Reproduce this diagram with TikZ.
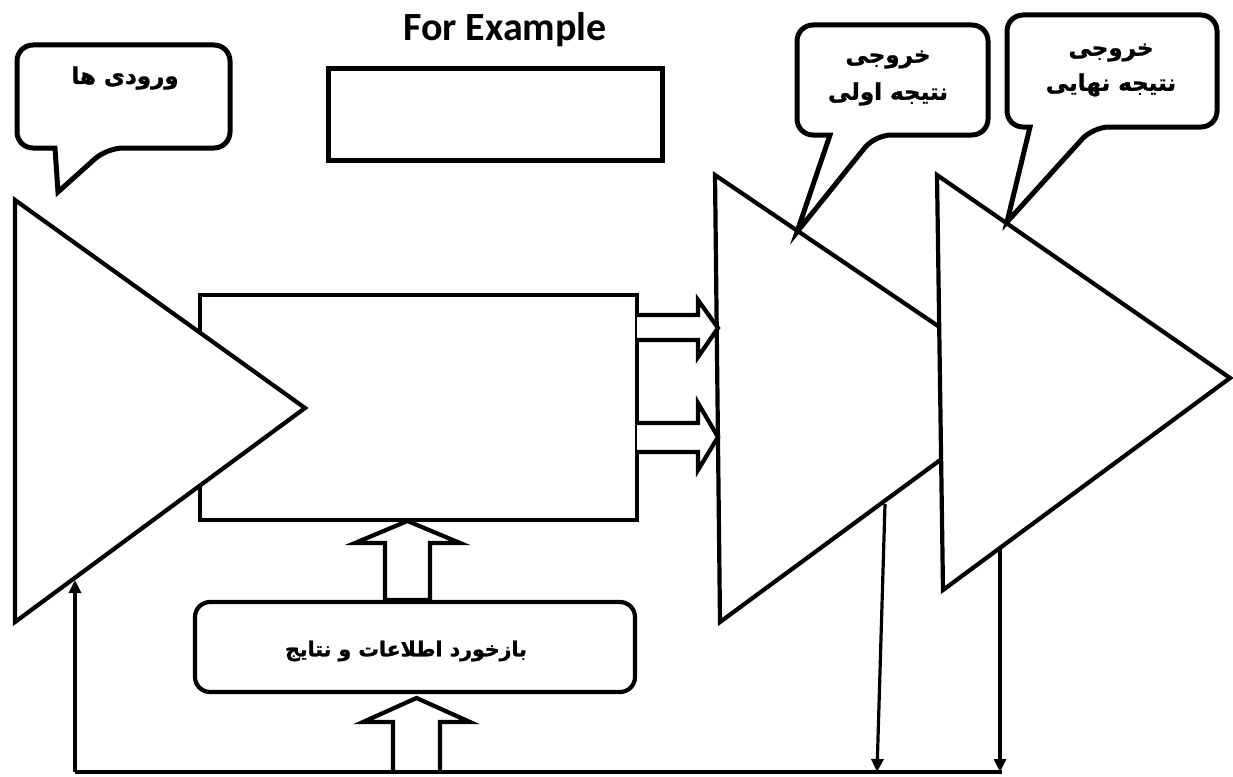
\documentclass[tikz,border=0pt]{standalone}
\usepackage{fontspec}
\setmainfont{Carlito}
\newfontfamily\arabicfont[Script=Arabic,FakeBold=1.3]{DejaVu Sans Bold}
\TeXXeTstate=1
\usetikzlibrary{arrows.meta}
\begin{document}
\begin{tikzpicture}[x=1pt,y=-1pt,line join=miter,
  tri/.style={draw=black,line width=4.2pt,fill=white},
  bubble/.style={draw=black,line width=5pt,fill=white,rounded corners=16pt},
  thinarrow/.style={draw=black,line width=3.2pt,-{Triangle[length=13pt,width=12pt]}},
  thinline/.style={draw=black,line width=3.2pt},
  blockarrow/.style={draw=black,line width=4.2pt,fill=white},
  plainbox/.style={draw=black,line width=4.2pt,fill=white,inner sep=0pt,outer sep=0pt},
  ar/.style={font=\arabicfont\fontsize{23}{37}\selectfont,align=center,inner sep=0pt},
  arsmall/.style={font=\arabicfont\fontsize{20.5}{24}\selectfont,align=center,inner sep=0pt},
]
\useasboundingbox (0,0) rectangle (1233,776);

% title and example box
\node[font=\bfseries\fontsize{40}{46}\selectfont] (title) at (505,30) {For Example};
\node[plainbox,line width=5pt,minimum width=334pt,minimum height=92pt] (ex) at (495,114) {};

% main process rectangle
\node[plainbox,minimum width=437pt,minimum height=225pt] (proc) at (418.5,407.5) {};

% input triangle
\coordinate (t1a) at (15,200);
\coordinate (t1b) at (305,408);
\coordinate (t1c) at (15,622);
\path[tri] (t1a) -- (t1b) -- (t1c) -- cycle;

% output triangles
\coordinate (t2a) at (715,175);
\coordinate (t2b) at (1034,391);
\coordinate (t2c) at (720,622);
\path[tri] (t2a) -- (t2b) -- (t2c) -- cycle;
\coordinate (t3a) at (937,175);
\coordinate (t3b) at (1230,378);
\coordinate (t3c) at (943,590);
\path[tri] (t3a) -- (t3b) -- (t3c) -- cycle;

% horizontal block arrows
\path[blockarrow] (637,315) -- (698,315) -- (698,300) -- (718,328) -- (698,357) -- (698,340) -- (637,340);
\path[blockarrow] (637,423) -- (698,423) -- (698,403) -- (718,437) -- (698,470) -- (698,452) -- (637,452);

% feedback box
\node[plainbox,rounded corners=15pt,minimum width=440pt,minimum height=90pt] (fb) at (415,647) {};
\node[arsmall] (fbtext) at (406,651) {\beginR بازخورد اطلاعات و نتایج\endR};

% vertical block arrows
\path[blockarrow] (385,600) -- (385,543) -- (355,543) -- (407.5,521) -- (460,543) -- (430,543) -- (430,600) -- cycle;
\path[blockarrow] (393,773) -- (393,722) -- (363,722) -- (416.5,698) -- (470,722) -- (440,722) -- (440,773);

% feedback lines
\coordinate (bl) at (75,772);
\coordinate (br) at (1002,772);
\coordinate (in1) at (75,580);
\coordinate (o1) at (885,504);
\coordinate (o1b) at (877,772);
\coordinate (o2) at (1000,548);
\coordinate (o2b) at (1000,772);
\draw[thinline] (bl) -- (br);
\draw[thinarrow] (bl) -- (in1);
\draw[thinarrow] (o1) -- (o1b);
\draw[thinarrow] (o2) -- (o2b);

% speech bubbles
\path[bubble] (120,45) -- (230,45) -- (230,148) -- (107,148) [sharp corners] -- (58,192) -- (55,148) [rounded corners=16pt] -- (17,148) -- (17,45) -- cycle;
\node[ar] (inp) at (125,78) {\beginR ورودی ها\endR};

\path[bubble] (890,25) -- (988,25) -- (988,135) -- (875,135) [sharp corners] -- (797,232) -- (830,135) [rounded corners=16pt] -- (797,135) -- (797,25) -- cycle;
\node[ar] (out1) at (888,78) {\beginR خروجی\endR\\\beginR نتیجه اولی\endR};

\path[bubble] (1110,15) -- (1217,15) -- (1217,127) -- (1093,127) [sharp corners] -- (1007,222) -- (1030,127) [rounded corners=16pt] -- (1007,127) -- (1007,15) -- cycle;
\node[ar,font=\arabicfont\fontsize{23}{35}\selectfont] (out2) at (1111,70) {\beginR خروجی\endR\\\beginR نتیجه نهایی\endR};
\end{tikzpicture}
\end{document}
